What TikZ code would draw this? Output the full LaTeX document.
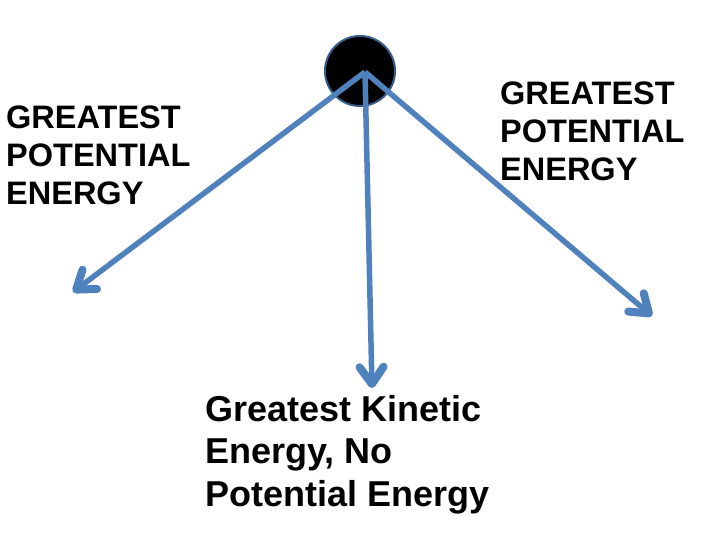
\documentclass[tikz,border=0pt]{standalone}
\usepackage{fontspec}
\setmainfont{Liberation Sans}
\usepackage{xcolor}
\definecolor{swingblue}{RGB}{79,129,189}
\definecolor{rimblue}{RGB}{56,93,138}
\usetikzlibrary{positioning, calc, arrows.meta}
\tikzstyle{Swing} = [
line width=5.5pt,
swingblue,
-{Straight Barb[length=17pt,width=24pt,line width=2.5pt 1,round]}]
\tikzstyle{Label} = [
inner sep=0pt,
anchor=base west,
align=left,
font=\bfseries\fontsize{32.5}{38}\selectfont]
\tikzstyle{BigLabel} = [
Label,
font=\bfseries\fontsize{36}{42.5}\selectfont]

\begin{document}
\begin{tikzpicture}[x=1pt, y=-1pt]
    \useasboundingbox (0,0) rectangle (720,540);
    \node [circle, fill=black, draw=rimblue, line width=2pt,
           minimum size=70pt, inner sep=0pt] (ball) at (360,71) {};
    \coordinate (pivot) at (365,72);
    \coordinate (left) at (73,292);
    \coordinate (down) at (372,388);
    \coordinate (right) at (652,316);

    \node [Label] (lefttext) at (6,205) {GREATEST\\POTENTIAL\\ENERGY};
    \node [Label] (righttext) at (500,181) {GREATEST\\POTENTIAL\\ENERGY};
    \node [BigLabel] (bottomtext) at (205,506) {Greatest Kinetic\\Energy, No\\Potential Energy};

    \draw[Swing] (pivot)--(left);
    \draw[Swing] (pivot)--(down);
    \draw[Swing] (pivot)--(right);
\end{tikzpicture}
\end{document}
